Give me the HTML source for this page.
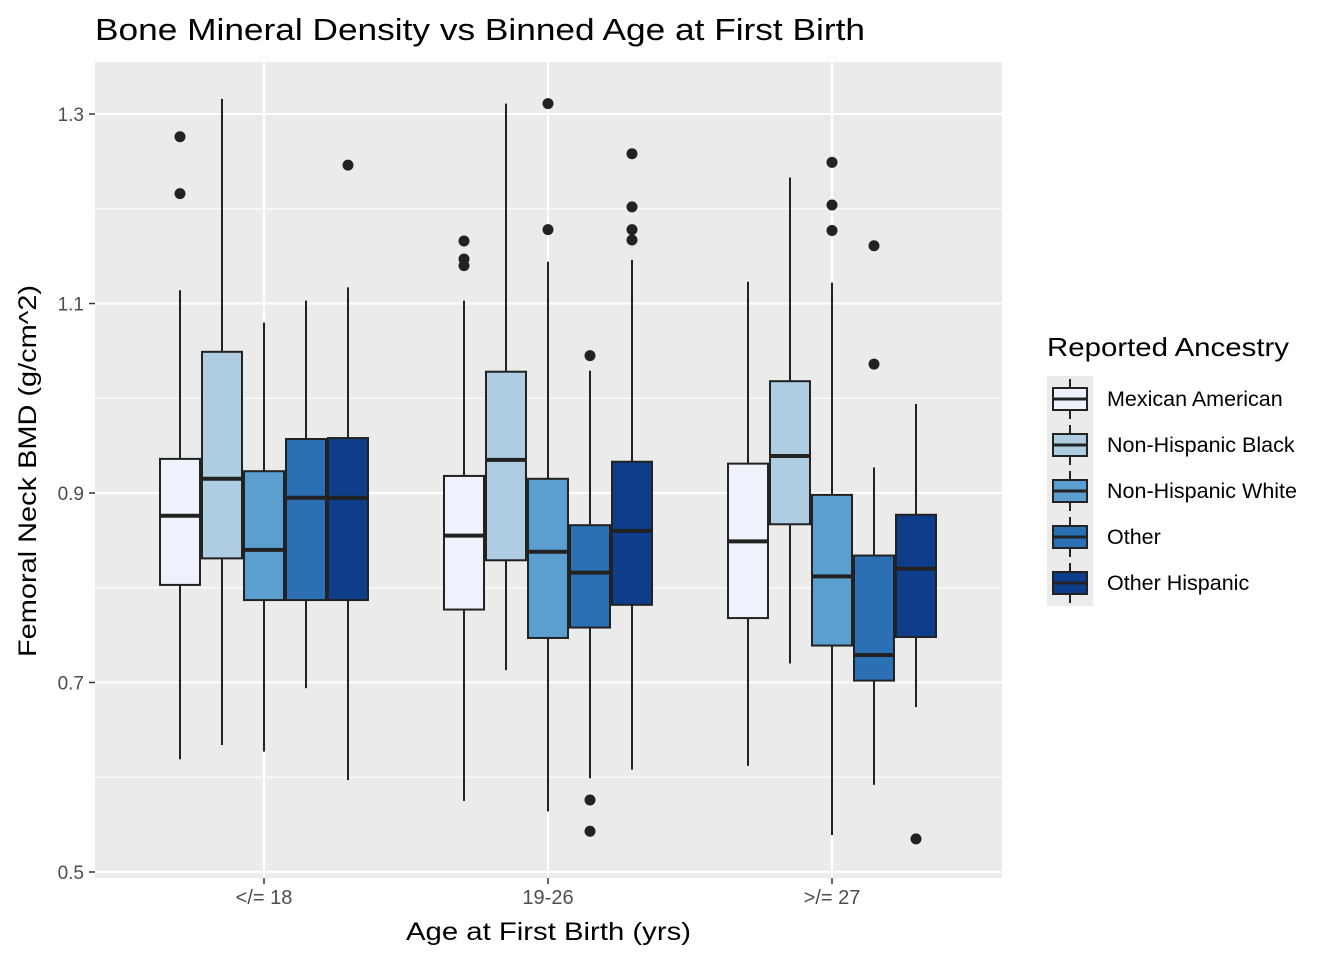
<!DOCTYPE html>
<html><head><meta charset="utf-8"><style>
body{margin:0;background:#fff;font-family:"Liberation Sans",Arial,sans-serif;}
svg text{font-family:"Liberation Sans",Arial,sans-serif;}
</style></head><body>
<svg id="chart" width="1344" height="960" xmlns="http://www.w3.org/2000/svg">
<rect width="1344" height="960" fill="#fff"/>
<text x="95" y="40" font-size="31" textLength="770" lengthAdjust="spacingAndGlyphs" fill="#000">Bone Mineral Density vs Binned Age at First Birth</text>
<rect x="95" y="62" width="907" height="816" fill="#ebebeb"/>
<g id="grid"></g><g id="marks"></g><g id="axes"></g><g id="legend"></g>
<text x="406" y="940" font-size="25" textLength="285" lengthAdjust="spacingAndGlyphs" fill="#000">Age at First Birth (yrs)</text>
<text transform="translate(36,657) rotate(-90)" font-size="25" textLength="372" lengthAdjust="spacingAndGlyphs" fill="#000">Femoral Neck BMD (g/cm^2)</text>
</svg>
<script>
const categories = ["</= 18","19-26",">/= 27"];
const groups = ["Mexican American","Non-Hispanic Black","Non-Hispanic White","Other","Other Hispanic"];
const colors = ["#edf2fc","#aecde3","#5a9fd0","#2b6fb4","#0e3d8b"];
const yTicks = [0.5,0.7,0.9,1.1,1.3];
const yMinor = [0.6,0.8,1.0,1.2];
// [low, q1, median, q3, high] per category per group
const stats_le18 = [[0.619,0.803,0.876,0.936,1.114],[0.634,0.831,0.915,1.049,1.316],[0.627,0.787,0.840,0.923,1.080],[0.694,0.787,0.895,0.957,1.103],[0.597,0.787,0.895,0.958,1.117]];
const stats_19_26 = [[0.575,0.777,0.855,0.918,1.103],[0.713,0.829,0.935,1.028,1.311],[0.564,0.747,0.838,0.915,1.144],[0.599,0.758,0.816,0.866,1.029],[0.608,0.782,0.860,0.933,1.146]];
const stats_ge27 = [[0.612,0.768,0.849,0.931,1.123],[0.720,0.867,0.939,1.018,1.233],[0.539,0.739,0.812,0.898,1.122],[0.592,0.702,0.729,0.834,0.927],[0.674,0.748,0.820,0.877,0.994]];
const outliers_le18 = [[1.276,1.216],[],[],[],[1.246]];
const outliers_19_26 = [[1.166,1.147,1.140],[],[1.311,1.178],[1.045,0.576,0.543],[1.258,1.202,1.178,1.167]];
const outliers_ge27 = [[],[],[1.249,1.204,1.177],[1.161,1.036],[0.535]];
const allStats=[stats_le18,stats_19_26,stats_ge27];
const allOut=[outliers_le18,outliers_19_26,outliers_ge27];

const NS="http://www.w3.org/2000/svg";
const y=v=>872-(v-0.5)*947.5;
const xC=i=>264+i*284;
const dodge=j=>(j-2)*42;
const BW=40;
function mk(tag,attrs,parent){const e=document.createElementNS(NS,tag);for(const k in attrs)e.setAttribute(k,attrs[k]);parent.appendChild(e);return e;}
const grid=document.getElementById('grid'),marks=document.getElementById('marks'),axes=document.getElementById('axes'),leg=document.getElementById('legend');
yMinor.forEach(v=>{const l=mk('line',{x1:95,x2:1002,y1:y(v),y2:y(v),stroke:'#fff','stroke-width':1},grid);

});
yTicks.forEach(v=>{const l=mk('line',{x1:95,x2:1002,y1:y(v),y2:y(v),stroke:'#fff','stroke-width':2},grid);


mk('line',{x1:89,x2:95,y1:y(v),y2:y(v),stroke:'#333','stroke-width':1.5},axes);
const t=mk('text',{x:84,y:y(v)+7,'font-size':19,'text-anchor':'end',fill:'#4d4d4d'},axes);t.textContent=v.toFixed(1);

});
categories.forEach((c,i)=>{const l=mk('line',{x1:xC(i),x2:xC(i),y1:62,y2:878,stroke:'#fff','stroke-width':2},grid);


mk('line',{x1:xC(i),x2:xC(i),y1:878,y2:884,stroke:'#333','stroke-width':1.5},axes);
const t=mk('text',{x:xC(i),y:904,'font-size':20,'text-anchor':'middle',fill:'#4d4d4d'},axes);t.textContent=c;

});
allStats.forEach((st,i)=>{st.forEach((s,j)=>{const cx=xC(i)+dodge(j);
const g=mk('g',{},marks);


mk('line',{x1:cx,x2:cx,y1:y(s[0]),y2:y(s[1]),stroke:'#222','stroke-width':2},g);
mk('line',{x1:cx,x2:cx,y1:y(s[3]),y2:y(s[4]),stroke:'#222','stroke-width':2},g);
mk('rect',{x:cx-BW/2,y:y(s[3]),width:BW,height:y(s[1])-y(s[3]),fill:colors[j],stroke:'#222','stroke-width':2},g);
mk('line',{x1:cx-BW/2,x2:cx+BW/2,y1:y(s[2]),y2:y(s[2]),stroke:'#222','stroke-width':4},g);
allOut[i][j].forEach(o=>{const p=mk('circle',{cx:cx,cy:y(o),r:5.5,fill:'#222'},g);

});});});
const lt=mk('text',{x:1047,y:356,'font-size':26,textLength:242,lengthAdjust:'spacingAndGlyphs',fill:'#000'},leg);lt.textContent='Reported Ancestry';


groups.forEach((gname,j)=>{const ty=376+j*46;
const g=mk('g',{},leg);


mk('rect',{x:1047,y:ty,width:46,height:46,fill:'#ebebeb'},g);
mk('line',{x1:1070,x2:1070,y1:ty+3,y2:ty+43,stroke:'#222','stroke-width':2},g);
mk('rect',{x:1053,y:ty+12,width:34,height:22,fill:colors[j],stroke:'#222','stroke-width':2},g);
mk('line',{x1:1053,x2:1087,y1:ty+23,y2:ty+23,stroke:'#222','stroke-width':3},g);
const t=mk('text',{x:1107,y:ty+30,'font-size':21.5,fill:'#000'},g);t.textContent=gname;});
</script>
</body></html>
